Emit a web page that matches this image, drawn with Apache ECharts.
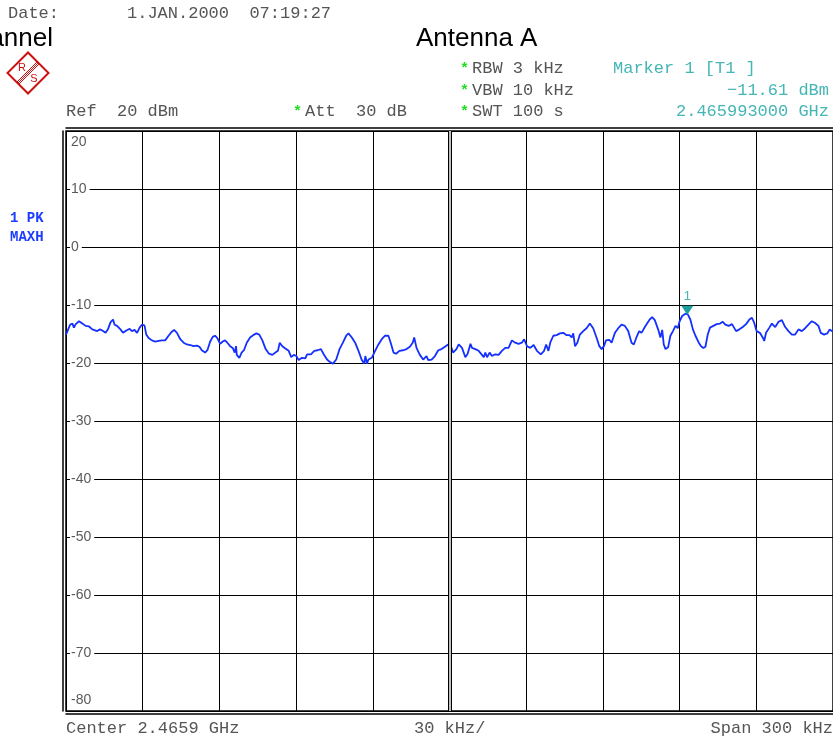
<!DOCTYPE html>
<html>
<head>
<meta charset="utf-8">
<title>Antenna A</title>
<script src="https://cdn.jsdelivr.net/npm/echarts@6/dist/echarts.min.js"></script>
<style>
  html, body { margin: 0; padding: 0; background: #fff; }
  #analyzer { width: 833px; height: 738px; }
</style>
</head>
<body>
<div id="analyzer"></div>
<script>
// span settings (x is kHz from start of the 300 kHz span)
var spanKHz = 300;
var divKHz = 30;
var refLevel = 20;
var bottomLevel = -80;
var levelStep = 10;

// marker 1
var markerFreq = 243.0;
var markerLevel = -11.61;

// MAXH trace: [kHz, dBm]
var trace = [
  [0,-15.1],[0.5,-14.6],[1.6,-13.4],[2.5,-13.2],[3.1,-13.9],[3.8,-13.3],[5.1,-12.8],[6.4,-13.2],[7.7,-13.6],[9.0,-13.7],
  [10.3,-14.2],[10.9,-14.0],[12.2,-14.5],[13.3,-14.2],[14.2,-14.4],[15.5,-14.8],[16.4,-14.2],[17.4,-13.0],[18.4,-12.5],[19.0,-13.4],
  [20.0,-13.6],[21.3,-14.2],[22.3,-14.8],[23.6,-14.4],[24.9,-14.1],[25.8,-14.5],[26.8,-14.3],[27.8,-14.8],[28.8,-13.9],[29.7,-13.4],
  [30.7,-13.5],[31.4,-15.1],[32.3,-15.7],[33.6,-16.1],[34.9,-16.3],[36.2,-16.2],[37.5,-16.1],[38.8,-16.1],[40.1,-15.3],[41.4,-14.6],
  [42.3,-14.3],[43.4,-14.8],[44.7,-15.9],[46.0,-16.5],[47.3,-16.8],[48.6,-16.9],[49.9,-17.1],[51.2,-17.0],[52.2,-17.2],[53.1,-17.8],
  [54.4,-18.2],[55.3,-17.8],[56.4,-16.3],[57.4,-15.5],[58.3,-15.3],[59.2,-15.7],[60.3,-16.7],[61.3,-16.3],[62.2,-16.1],[63.1,-16.5],
  [64.2,-17.1],[65.2,-17.4],[66.0,-18.2],[66.5,-17.1],[66.8,-18.6],[67.8,-19.1],[68.7,-18.2],[69.6,-17.8],[70.7,-16.5],[72.0,-15.6],
  [73.2,-15.2],[74.5,-14.9],[75.6,-15.1],
  [76.8,-16.1],[78.1,-17.6],[79.4,-18.4],[80.7,-18.6],[81.9,-18.2],[82.9,-17.9],[83.6,-16.5],[84.6,-17.1],[85.8,-17.5],[87.1,-17.9],
  [88.1,-19.0],[89.1,-18.6],[90.1,-18.8],[91.0,-19.5],[92.3,-19.1],[93.6,-19.2],[94.3,-18.5],[94.9,-18.2],[95.8,-18.5],[97.1,-17.9],
  [98.4,-17.8],[99.7,-17.6],[100.8,-18.5],[102.1,-19.4],[103.4,-19.9],[104.4,-20.1],[105.7,-19.4],[107.0,-17.6],[108.3,-16.5],[109.6,-15.3],
  [110.5,-14.9],[111.8,-15.6],[113.1,-16.5],[114.4,-17.9],[115.7,-19.5],[116.6,-20.1],[117.1,-18.8],[117.7,-20.1],[118.3,-19.4],[119.6,-19.1],
  [120.9,-17.9],[122.2,-16.8],[123.5,-15.9],[124.8,-15.3],[126.1,-15.3],[127.0,-16.5],[128.1,-18.2],[129.1,-18.4],[130.4,-17.9],[131.9,-17.8],
  [133.2,-17.6],[134.5,-17.2],[135.6,-16.5],[136.2,-15.6],[137.1,-17.4],[138.4,-18.6],[139.7,-19.4],[141.0,-18.8],[141.7,-19.5],[143.0,-19.4],
  [144.3,-18.8],[145.6,-17.8],[146.9,-17.6],[148.2,-17.2],[149.5,-16.8],[150.8,-17.4],
  [151.4,-18.2],[152.7,-17.6],[153.6,-16.8],[154.9,-17.4],[156.2,-19.0],[157.1,-18.4],[158.2,-16.7],[158.8,-17.4],[160.1,-17.6],[161.4,-17.9],
  [162.7,-18.6],[163.4,-19.0],[164.0,-18.2],[164.7,-19.0],[165.7,-18.2],[166.6,-18.8],[167.9,-18.5],[169.2,-18.6],[170.5,-17.9],[171.8,-17.4],
  [173.1,-17.4],[174.4,-16.1],[175.7,-16.5],[177.0,-16.7],[178.3,-16.5],[179.2,-15.9],[180.3,-17.1],[181.6,-17.4],[182.9,-16.9],[184.2,-17.9],
  [185.7,-18.5],[187.0,-17.9],[187.8,-16.8],[188.7,-17.9],[189.4,-16.5],[190.6,-15.3],[191.9,-15.2],[193.2,-14.9],[194.5,-14.8],[195.8,-15.2],
  [196.9,-15.2],[197.8,-15.6],[198.4,-14.9],[199.1,-17.1],[200.0,-16.5],[201.0,-15.1],[202.3,-14.5],[203.6,-14.0],[204.9,-13.2],[206.2,-14.0],
  [207.5,-15.6],[208.6,-17.1],[209.5,-17.6],[210.4,-17.1],[211.2,-16.1],[212.5,-16.0],[213.4,-16.5],[214.7,-14.8],[216.0,-14.0],[217.3,-13.4],
  [218.6,-13.6],[219.9,-14.5],[221.2,-16.5],[222.1,-16.8],[223.1,-15.6],[224.2,-14.5],[225.1,-14.8],[226.4,-13.8],
  [227.0,-13.6],[228.3,-12.5],[229.3,-12.1],[230.3,-12.6],[231.6,-14.2],[232.5,-15.6],[233.2,-14.3],[233.8,-16.8],[234.5,-17.6],[235.5,-17.3],
  [236.4,-15.3],[237.4,-14.5],[238.4,-13.6],[239.3,-14.0],[240.0,-12.8],[241.0,-11.9],[242.3,-11.5],[243.2,-11.6],[244.2,-12.5],[245.2,-14.2],
  [246.2,-15.3],[247.5,-16.5],[248.4,-17.1],[249.3,-17.4],[250.1,-17.2],[251.0,-15.1],[251.9,-13.9],[253.2,-13.6],[254.5,-13.3],[255.8,-13.2],
  [256.9,-12.9],[257.9,-13.4],[259.2,-13.6],[260.5,-13.3],[262.1,-14.5],[263.4,-14.2],[264.7,-13.8],[266.0,-13.3],[267.3,-12.5],[268.3,-12.2],
  [269.2,-13.1],[270.1,-14.5],[271.4,-14.8],[272.5,-15.6],[273.1,-16.2],[273.8,-14.8],[275.1,-13.9],[276.1,-13.2],[277.4,-13.8],[278.7,-12.9],
  [280.0,-12.6],[281.3,-13.8],[282.6,-14.5],[283.9,-15.1],[285.2,-15.1],[286.5,-14.2],[287.8,-14.5],[289.1,-14.0],[290.4,-13.4],[291.7,-12.8],
  [293.0,-13.1],[294.3,-13.6],[295.2,-14.8],[296.5,-15.1],[297.8,-14.9],[298.7,-14.2],[299.5,-14.5],[300,-14.3]
];

var MONO = '"Liberation Mono", "DejaVu Sans Mono", monospace';
var SANS = '"Liberation Sans", Arial, sans-serif';
var GREY = '#555';
var TEAL = '#45b5b5';
var GREEN = '#22dd22';
var RED = '#cc1111';

// screen text helper
function txt(x, y, s, extra) {
  var st = { text: s, font: '17px ' + MONO, fill: GREY, align: 'left', verticalAlign: 'middle' };
  for (var k in extra) st[k] = extra[k];
  st.textAlign = st.align;
  st.textVerticalAlign = st.verticalAlign;
  return { type: 'text', x: x, y: y, silent: true, style: st };
}
function star(x, y) {
  return txt(x, y + 1, '*', { font: 'bold 15px ' + MONO, fill: GREEN });
}

var screenTexts = [
  txt(8, 13, 'Date:'),
  txt(127, 13, '1.JAN.2000  07:19:27'),
  txt(53, 39, 'Channel', { font: '26px ' + SANS, fill: '#000', align: 'right' }),
  txt(416, 39, 'Antenna A', { font: '26px ' + SANS, fill: '#000' }),
  star(460, 68), txt(472, 68, 'RBW 3 kHz'),
  star(460, 90), txt(472, 90, 'VBW 10 kHz'),
  star(460, 111), txt(472, 111, 'SWT 100 s'),
  txt(613, 68, 'Marker 1 [T1 ]', { fill: TEAL }),
  txt(829, 90, markerLevel.toFixed(2).replace('-', '\u2212') + ' dBm', { fill: TEAL, align: 'right' }),
  txt(829, 111, '2.465993000 GHz', { fill: TEAL, align: 'right' }),
  txt(66, 111, 'Ref  20 dBm'),
  star(293, 111), txt(305, 111, 'Att  30 dB'),
  txt(10, 218, '1 PK', { font: 'bold 14px ' + MONO, fill: '#1c3cff' }),
  txt(10, 237, 'MAXH', { font: 'bold 14px ' + MONO, fill: '#1c3cff' }),
  txt(66, 728, 'Center 2.4659 GHz'),
  txt(414, 728, '30 kHz/'),
  txt(833, 728, 'Span 300 kHz', { align: 'right' })
];

// R&S logo: diamond, R upper left, S lower right, striped band between
function logoText(x, y, s) {
  return { type: 'text', x: x, y: y, style: { text: s, font: '11px ' + SANS, fill: RED, align: 'center', verticalAlign: 'middle', textAlign: 'center', textVerticalAlign: 'middle' } };
}
var logo = {
  type: 'group', x: 28, y: 73, silent: true,
  children: [
    { type: 'rect', rotation: Math.PI / 4, shape: { x: -14.5, y: -14.5, width: 29, height: 29 },
      style: { fill: 'none', stroke: RED, lineWidth: 2 } },
    { type: 'line', shape: { x1: -11, y1: 9, x2: 9, y2: -11 }, style: { stroke: RED, lineWidth: 1 } },
    { type: 'line', shape: { x1: -10, y1: 10, x2: 10, y2: -10 }, style: { stroke: RED, lineWidth: 1 } },
    { type: 'line', shape: { x1: -9, y1: 11, x2: 11, y2: -9 }, style: { stroke: RED, lineWidth: 1 } },
    logoText(-6, -5, 'R'),
    logoText(6, 6, 'S')
  ]
};

var chart = echarts.init(document.getElementById('analyzer'));

var option = {
  animation: false,
  backgroundColor: '#fff',
  grid: {
    left: 66, right: -1, top: 131, bottom: 27,
    show: true, borderColor: '#000', borderWidth: 1.5
  },
  xAxis: [{
    type: 'value', min: 0, max: spanKHz, interval: divKHz,
    offset: 3,
    axisLine: { show: true, onZero: false, lineStyle: { color: '#000', width: 1.5 } },
    axisTick: { show: false },
    axisLabel: { show: false },
    splitLine: { show: true, lineStyle: { color: '#000', width: 1 } }
  }, {
    type: 'value', min: 0, max: spanKHz, position: 'top',
    offset: 3,
    axisLine: { show: true, onZero: false, lineStyle: { color: '#000', width: 1.5 } },
    axisTick: { show: false },
    axisLabel: { show: false },
    splitLine: { show: false }
  }],
  yAxis: {
    type: 'value', min: bottomLevel, max: refLevel, interval: levelStep,
    offset: 3,
    axisLine: { show: true, onZero: false, lineStyle: { color: '#000', width: 1.5 } },
    axisTick: { show: false },
    splitLine: { show: true, lineStyle: { color: '#000', width: 1 } },
    axisLabel: {
      inside: true, margin: 7,
      color: '#5a5a5a', fontFamily: SANS, fontSize: 14,
      verticalAlignMinLabel: 'bottom',
      verticalAlignMaxLabel: 'top',
      formatter: function (v) {
        if (v === refLevel || v === bottomLevel) return '{edge|' + v + '}';
        return '{mid|' + v + '}';
      },
      rich: {
        mid: { backgroundColor: '#fff', padding: [0, 3, 0, 1], fontSize: 14, color: '#5a5a5a', fontFamily: SANS },
        edge: { lineHeight: 22, fontSize: 14, color: '#5a5a5a', fontFamily: SANS, padding: [0, 0, 0, 1] }
      }
    },
    z: 3
  },
  graphic: screenTexts.concat([logo]),
  series: [{
    // centre graticule line is drawn doubled on the screen
    type: 'line', data: [], silent: true, z: 1,
    markLine: {
      silent: true, symbol: 'none', label: { show: false }, animation: false,
      data: [
        { xAxis: spanKHz / 2, lineStyle: { color: '#000', width: 4, type: 'solid' } },
        { xAxis: spanKHz / 2, lineStyle: { color: '#fff', width: 1.5, type: 'solid' } }
      ]
    }
  }, {
    name: '1 PK MAXH',
    type: 'line', data: trace, z: 4,
    showSymbol: false, symbol: 'none',
    lineStyle: { color: '#1430ff', width: 1.8 },
    markPoint: {
      symbol: 'triangle', symbolRotate: 180, symbolSize: [12, 9], symbolOffset: [0, -4],
      itemStyle: { color: '#1a9e9e' },
      label: { show: true, position: 'top', distance: 3, formatter: '1', color: TEAL, fontFamily: SANS, fontSize: 13 },
      data: [{ coord: [markerFreq, markerLevel] }]
    }
  }]
};

chart.setOption(option);

window.addEventListener('resize', function () {
  chart.resize();
});
</script>
</body>
</html>
